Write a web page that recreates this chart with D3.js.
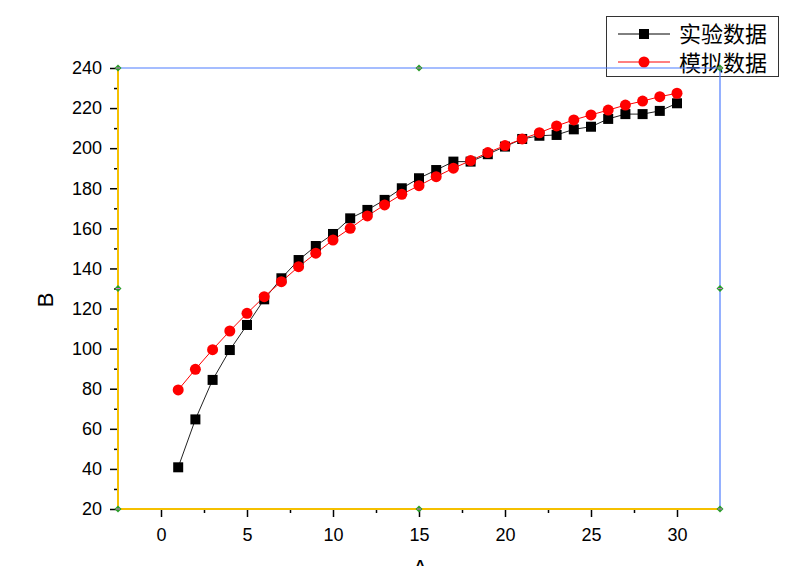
<!DOCTYPE html>
<html>
<head>
<meta charset="utf-8">
<script src="https://cdn.jsdelivr.net/npm/d3@7"></script>
<style>
html,body{margin:0;padding:0;background:#fff;}
svg{display:block;}
</style>
</head>
<body>
<svg id="chart" width="800" height="566"></svg>
<script>
const xValues = [1,2,3,4,5,6,7,8,9,10,11,12,13,14,15,16,17,18,19,20,21,22,23,24,25,26,27,28,29,30];
const expValues = [40.8,64.7,84.4,99.3,111.8,124.6,135.1,144.2,151.2,157.2,165,169.2,174.2,180,185,189.1,193.3,193.3,197,200.8,204.6,206.2,206.6,209.4,210.7,214.6,217,217,218.6,222.4];
const simValues = [79.4,89.7,99.5,108.8,117.6,125.9,133.4,140.9,147.6,154.2,160,166.2,171.7,177,181.3,185.8,190,193.8,197.8,201.3,204.6,207.7,211.1,214.1,216.6,219,221.5,223.5,225.7,227.4];
const seriesNames = ["实验数据","模拟数据"];
const xTicks = [0,5,10,15,20,25,30];
const yTicks = [20,40,60,80,100,120,140,160,180,200,220,240];
const xTitle = "A";
const yTitle = "B";

(function(){
const svg = d3.select("#chart");
const pL = 118, pR = 720, pT = 68, pB = 509;
const x = d3.scaleLinear().domain([-2.5, 32.5]).range([pL, pR]);
const y = d3.scaleLinear().domain([20, 240]).range([pB, pT]);
const font = "Arial, 'Liberation Sans', sans-serif";

// ticks - y axis
const yAxis = d3.axisLeft(y).tickValues(yTicks).tickSize(8).tickPadding(8).tickFormat(d3.format("d"));
const gy = svg.append("g").attr("transform", `translate(${pL},0)`).call(yAxis);
gy.select(".domain").remove();
gy.selectAll(".tick line").attr("stroke", "#000").attr("stroke-width", 1.5);
gy.selectAll(".tick text").attr("font-family", font).attr("font-size", 18).attr("fill", "#000");
const yMinor = d3.axisLeft(y).tickValues(d3.range(30, 240, 20)).tickSize(4).tickFormat("");
const gym = svg.append("g").attr("transform", `translate(${pL},0)`).call(yMinor);
gym.select(".domain").remove();
gym.selectAll(".tick line").attr("stroke", "#000").attr("stroke-width", 1.5);

// ticks - x axis
const xAxis = d3.axisBottom(x).tickValues(xTicks).tickSize(8).tickPadding(11).tickFormat(d3.format("d"));
const gx = svg.append("g").attr("transform", `translate(0,${pB})`).call(xAxis);
gx.select(".domain").remove();
gx.selectAll(".tick line").attr("stroke", "#000").attr("stroke-width", 1.5);
gx.selectAll(".tick text").attr("font-family", font).attr("font-size", 18).attr("fill", "#000");
const xMinor = d3.axisBottom(x).tickValues(d3.range(2.5, 32.5, 5)).tickSize(4).tickFormat("");
const gxm = svg.append("g").attr("transform", `translate(0,${pB})`).call(xMinor);
gxm.select(".domain").remove();
gxm.selectAll(".tick line").attr("stroke", "#000").attr("stroke-width", 1.5);

// axis titles
svg.append("text").attr("transform", `translate(53,300) rotate(-90)`)
  .attr("text-anchor", "middle").attr("font-family", font).attr("font-size", 22).text(yTitle);
svg.append("text").attr("x", 420).attr("y", 575).attr("text-anchor", "middle")
  .attr("font-family", font).attr("font-size", 22).text(xTitle);

// legend
const lg = svg.append("g");
lg.append("rect").attr("x", 606.5).attr("y", 16.5).attr("width", 172).attr("height", 60)
  .attr("fill", "#fff").attr("stroke", "#333").attr("stroke-width", 1);
lg.append("line").attr("x1", 618).attr("x2", 670).attr("y1", 34).attr("y2", 34).attr("stroke", "#000").attr("stroke-width", 1);
lg.append("rect").attr("x", 639).attr("y", 29).attr("width", 10).attr("height", 10).attr("fill", "#000");
lg.append("line").attr("x1", 618).attr("x2", 670).attr("y1", 62).attr("y2", 62).attr("stroke", "#f00").attr("stroke-width", 1);
lg.append("circle").attr("cx", 644).attr("cy", 62).attr("r", 5.5).attr("fill", "#f00");
lg.append("text").attr("x", 679).attr("y", 42).attr("font-family", "'Noto Sans CJK SC', sans-serif").attr("font-size", 22).text(seriesNames[0]);
lg.append("text").attr("x", 679).attr("y", 71).attr("font-family", "'Noto Sans CJK SC', sans-serif").attr("font-size", 22).text(seriesNames[1]);

// frame
svg.append("line").attr("x1", pL).attr("x2", pR).attr("y1", pT).attr("y2", pT).attr("stroke", "#4d7cff").attr("stroke-width", 1.2);
svg.append("line").attr("x1", pR).attr("x2", pR).attr("y1", pT).attr("y2", pB).attr("stroke", "#4d7cff").attr("stroke-width", 1.2);
svg.append("line").attr("x1", pL).attr("x2", pL).attr("y1", pT).attr("y2", pB).attr("stroke", "#f5c000").attr("stroke-width", 2);
svg.append("line").attr("x1", pL).attr("x2", pR).attr("y1", pB).attr("y2", pB).attr("stroke", "#f5c000").attr("stroke-width", 2);

// data lines
const expData = xValues.map((v, i) => [v, expValues[i]]);
const simData = xValues.map((v, i) => [v, simValues[i]]);
const line = d3.line().x(d => x(d[0])).y(d => y(d[1]));
svg.append("path").attr("d", line(expData)).attr("fill", "none").attr("stroke", "#222").attr("stroke-width", 1);
svg.append("path").attr("d", line(simData)).attr("fill", "none").attr("stroke", "#f00").attr("stroke-width", 1);
svg.append("g").selectAll("rect").data(expData).join("rect")
  .attr("x", d => x(d[0]) - 5).attr("y", d => y(d[1]) - 5).attr("width", 10).attr("height", 10).attr("fill", "#000");
svg.append("g").selectAll("circle").data(simData).join("circle")
  .attr("cx", d => x(d[0])).attr("cy", d => y(d[1])).attr("r", 5.5).attr("fill", "#f00");

// frame handle markers
const handles = [[pL, pT],[x(15), pT],[pR, pT],[pL, y(130)],[pR, y(130)],[pL, pB],[x(15), pB],[pR, pB]];
const hg = svg.append("g");
handles.forEach(([hx, hy]) => {
  hg.append("path").attr("d", `M${hx-3.5},${hy}L${hx},${hy-3.5}L${hx+3.5},${hy}L${hx},${hy+3.5}Z`).attr("fill", "#2a9d2a");
  hg.append("line").attr("x1", hx-2).attr("x2", hx+2).attr("y1", hy).attr("y2", hy).attr("stroke", "#d070d0").attr("stroke-width", 1);
});
})();
</script>
</body>
</html>
